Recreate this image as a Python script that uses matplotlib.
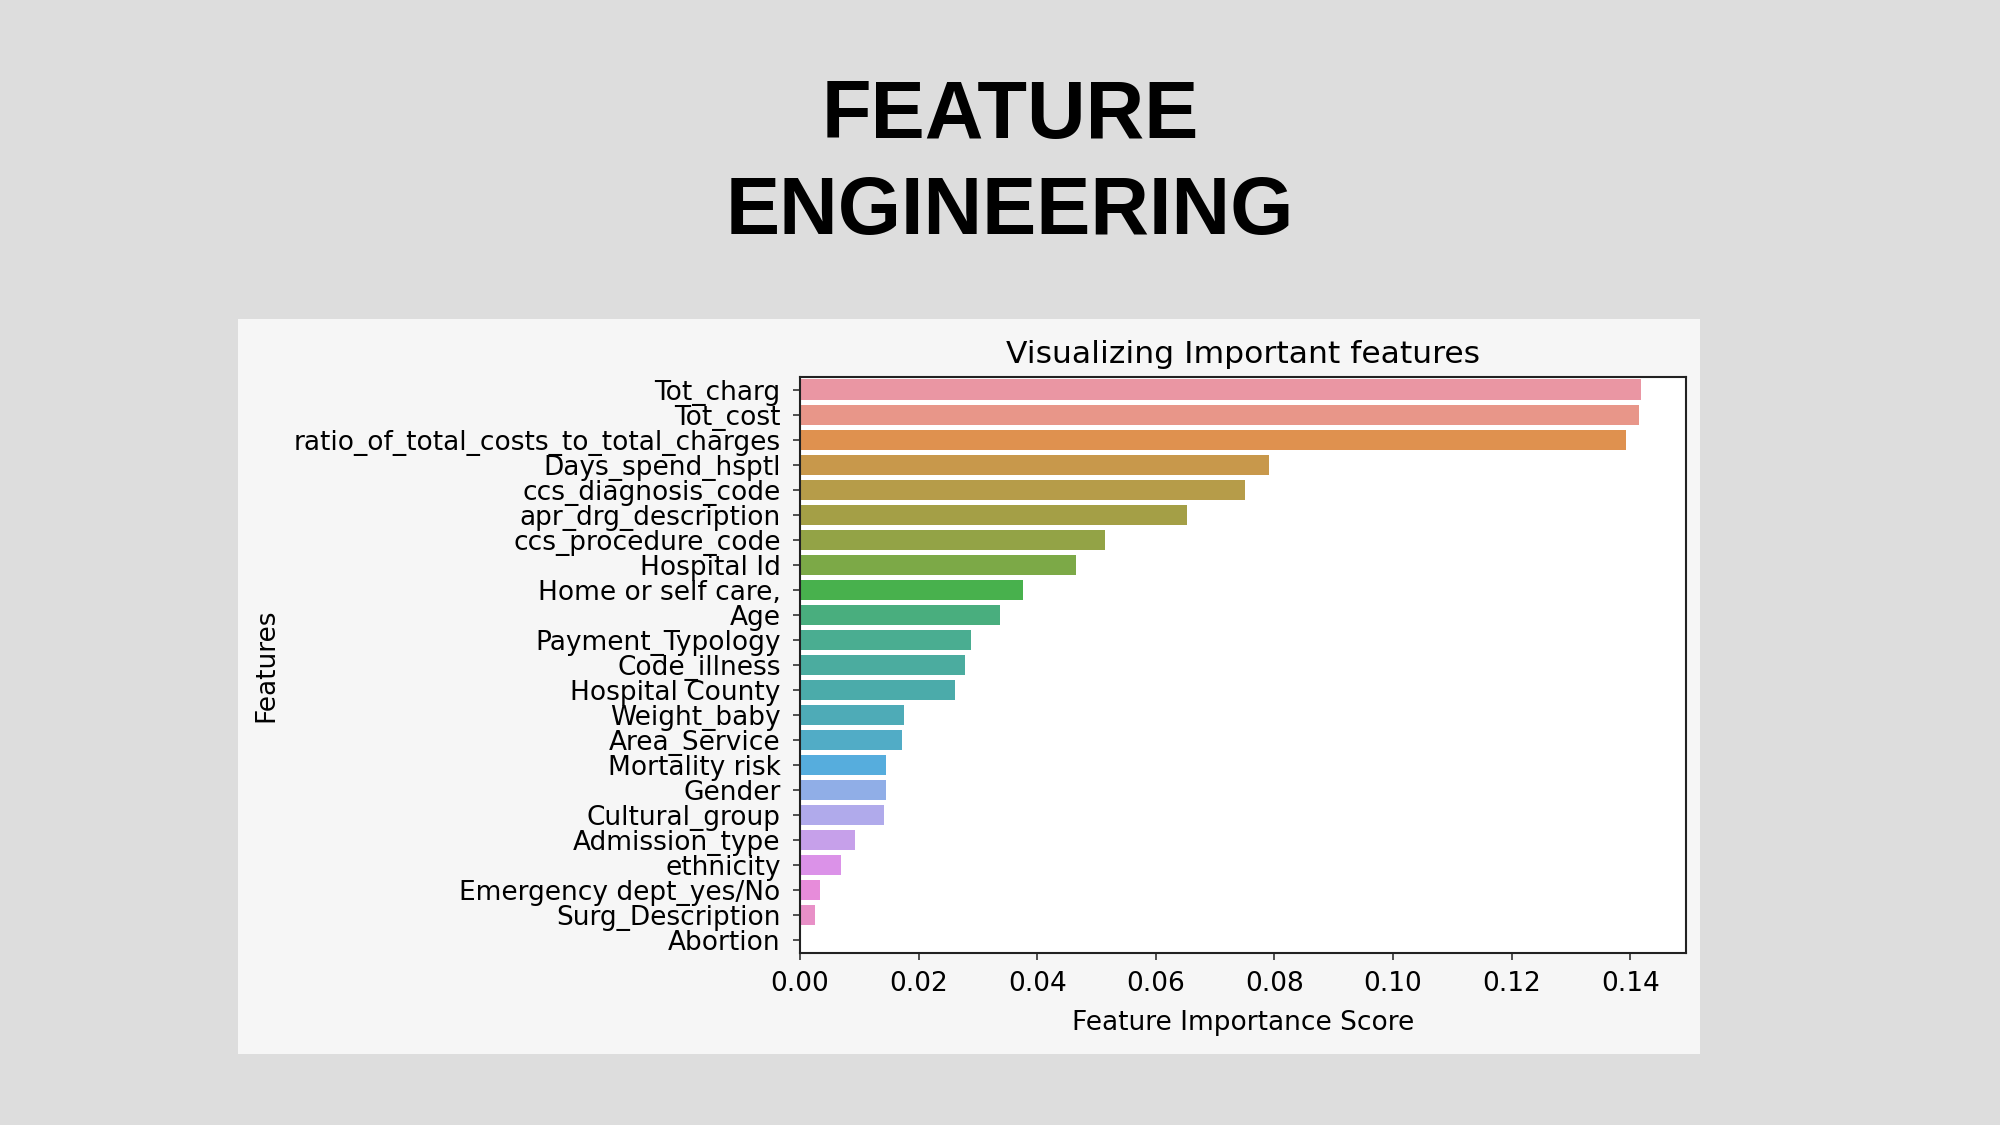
import numpy as np
import matplotlib
matplotlib.use("Agg")
import matplotlib.pyplot as plt
from matplotlib.patches import Rectangle

features = [
    "Tot_charg", "Tot_cost", "ratio_of_total_costs_to_total_charges",
    "Days_spend_hsptl", "ccs_diagnosis_code", "apr_drg_description",
    "ccs_procedure_code", "Hospital Id", "Home or self care,", "Age",
    "Payment_Typology", "Code_illness", "Hospital County", "Weight_baby",
    "Area_Service", "Mortality risk", "Gender", "Cultural_group",
    "Admission_type", "ethnicity", "Emergency dept_yes/No",
    "Surg_Description", "Abortion",
]
scores = [
    0.1418, 0.1414, 0.1392, 0.0790, 0.0751, 0.0653, 0.0515, 0.0465,
    0.0376, 0.0337, 0.0288, 0.0279, 0.0261, 0.0176, 0.0172, 0.0145,
    0.0145, 0.0141, 0.0092, 0.0069, 0.0034, 0.0025, 0.0002,
]

# husl palette (desaturated), same as seaborn's default for 23 bars
bar_colors = [
    "#ea96a3", "#e89689", "#df914f", "#c8984b", "#b69c49", "#a49f46",
    "#93a346", "#7ca947", "#48b14d", "#49ae7e", "#4aad91", "#4bac9f",
    "#4babaa", "#4eabb7", "#51acc6", "#56addd", "#90aee7", "#b0aaeb",
    "#c6a0ea", "#db92e8", "#e78cda", "#e890c7", "#e993b6",
]

fig = plt.figure(figsize=(20, 11.25), dpi=100, facecolor="#dddddd")

fig.text(0.505, 0.8773, "FEATURE", ha="center", va="baseline",
         fontsize=58.5, fontweight="bold", family="Liberation Sans")
fig.text(0.505, 0.792, "ENGINEERING", ha="center", va="baseline",
         fontsize=58.5, fontweight="bold", family="Liberation Sans")

# pasted chart panel
panel = Rectangle((0.119, 0.0631), 0.731, 0.6533, transform=fig.transFigure,
                  facecolor="#f6f6f6", edgecolor="none", zorder=-1)
fig.add_artist(panel)

ax = fig.add_axes([0.4, 0.1529, 0.443, 0.512])
ax.set_facecolor("white")
y = np.arange(len(features))
ax.barh(y, scores, height=0.8, color=bar_colors, edgecolor="none")
ax.set_yticks(y)
ax.set_yticklabels(features, fontsize=19)
ax.set_ylim(len(features) - 0.5, -0.5)
ax.set_xlim(0, 0.1494)
xt = np.arange(0, 0.141, 0.02)
ax.set_xticks(xt)
ax.set_xticklabels([f"{v:.2f}" for v in xt], fontsize=19)
ax.tick_params(length=5, width=1.2, color="#333333")
ax.tick_params(axis="y", pad=9)
ax.tick_params(axis="x", pad=8)
for s in ax.spines.values():
    s.set_linewidth(1.5)
    s.set_color("#222222")

ax.set_title("Visualizing Important features", fontsize=22.6, pad=10)
ax.set_xlabel("Feature Importance Score", fontsize=19, va="top")
ax.xaxis.set_label_coords(0.5, -0.099)
ax.set_ylabel("Features", fontsize=19)
ax.yaxis.set_label_coords(-0.588, 0.5)

fig.savefig("out.png", dpi=100, facecolor=fig.get_facecolor())
